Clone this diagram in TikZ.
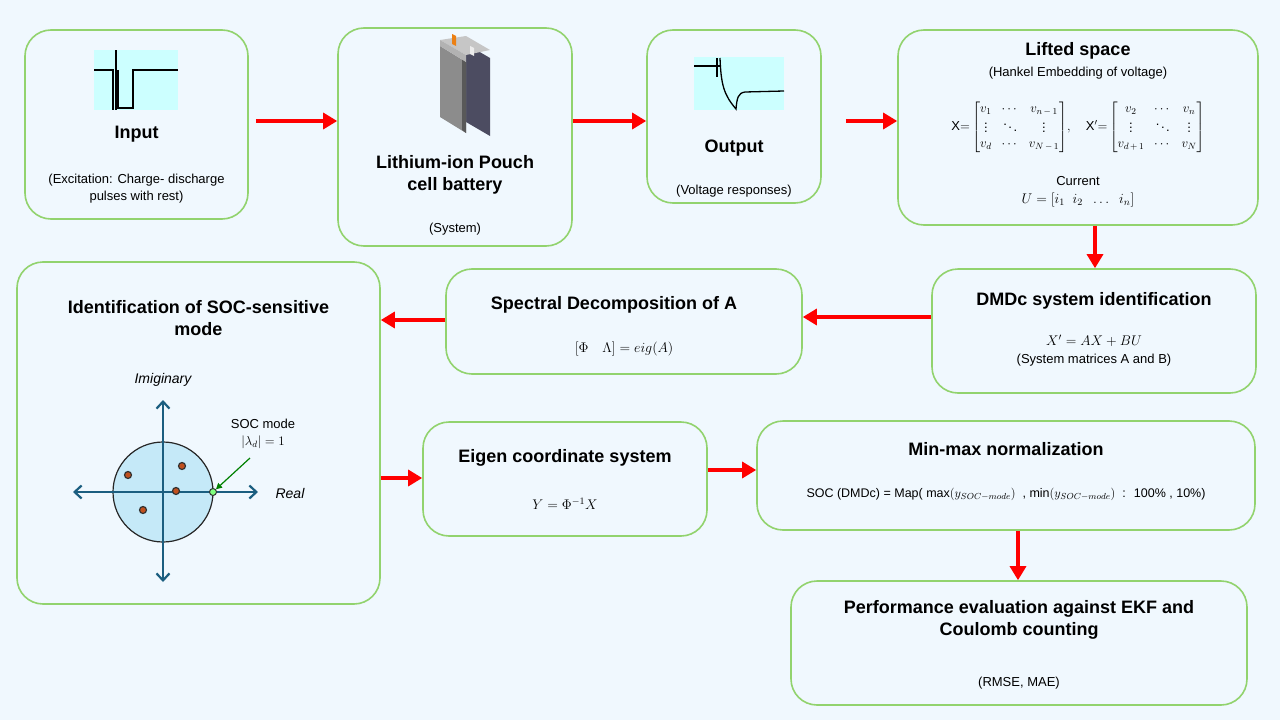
\RequirePackage{fix-cm}
\documentclass[tikz,border=0pt]{standalone}
\usepackage{amsmath}
\usepackage{fontspec}
\setmainfont{Liberation Sans}
\usetikzlibrary{arrows.meta,calc}

\definecolor{bgblue}{HTML}{F0F8FE}
\definecolor{boxgreen}{HTML}{92D36E}
\definecolor{panelcyan}{HTML}{CCFFFF}
\definecolor{axisblue}{HTML}{1B5E80}
\definecolor{diskblue}{HTML}{C5E9F8}
\definecolor{dotred}{HTML}{C0501E}

\tikzset{
  stage/.style={draw=boxgreen, line width=1.6pt, rounded corners=26pt, fill=bgblue},
  flow/.style={draw=red, line width=3.2pt, -{Triangle[length=14pt,width=16pt]}},
  head/.style={font=\fontsize{18}{22}\selectfont\bfseries, align=center},
  note/.style={font=\fontsize{13}{17}\selectfont, align=center},
  eq/.style={font=\fontsize{14}{17}\selectfont, align=center},
  axis/.style={draw=axisblue, line width=2.2pt, {Straight Barb[length=7pt,width=13pt]}-{Straight Barb[length=7pt,width=13pt]}},
  pole/.style={circle, draw=black!80, fill=dotred, line width=1.2pt, inner sep=0pt, minimum size=7pt}
}

\begin{document}
\begin{tikzpicture}[x=1pt,y=-1pt]
  \useasboundingbox[fill=bgblue] (0,0) rectangle (1280,720);

  % the stages
  \node[stage, minimum width=223pt, minimum height=189pt] (input) at (136.5,124.5) {};
  \node[stage, minimum width=234pt, minimum height=218pt] (cell) at (455,137) {};
  \node[stage, minimum width=174pt, minimum height=173pt] (output) at (734,116.5) {};
  \node[stage, minimum width=360pt, minimum height=195pt] (lifted) at (1078,127.5) {};
  \node[stage, minimum width=324pt, minimum height=124pt] (dmdc) at (1094,331) {};
  \node[stage, minimum width=356pt, minimum height=105pt] (spectral) at (624,321.5) {};
  \node[stage, minimum width=363pt, minimum height=342pt] (ident) at (198.5,433) {};
  \node[stage, minimum width=284pt, minimum height=114pt] (eigen) at (565,479) {};
  \node[stage, minimum width=498pt, minimum height=109pt] (minmax) at (1006,475.5) {};
  \node[stage, minimum width=456pt, minimum height=124pt] (perf) at (1019,643) {};

  % input signal
  \fill[panelcyan] (94,50) rectangle (178,110);
  \draw[line width=1.5pt] (94,70) -- (113,70) -- (113,110);
  \draw[line width=1.5pt] (116,50) -- (116,110);
  \draw[line width=1.5pt] (118,70) -- (118,108) -- (133,108) -- (133,70) -- (178,70);
  \node[head] (inputT) at (136.5,134) {Input};
  \node[note] (inputN) at (136.5,189) {(Excitation: Charge- discharge\\pulses with rest)};

  % pouch cell
  \fill[black!80!blue!40!gray] (466,44) -- (490,58) -- (490,136) -- (466,122) -- cycle;
  \fill[gray!90] (440,46) -- (466,62) -- (466,133) -- (440,117) -- cycle;
  \fill[black!65] (462,59) -- (466,62) -- (466,133) -- (462,130) -- cycle;
  \fill[gray!45] (440,40) -- (466,55) -- (490,50) -- (466,36) -- cycle;
  \fill[gray!60] (440,40) -- (466,55) -- (466,62) -- (440,46) -- cycle;
  \fill[orange!70!brown] (452,34) -- (456,36) -- (456,46) -- (452,44) -- cycle;
  \fill[white!85!gray] (470,46) -- (474,48) -- (474,56) -- (470,54) -- cycle;
  \node[head] (cellT) at (455,175) {Lithium-ion Pouch\\cell battery};
  \node[note] (cellN) at (455,229) {(System)};

  % output signal
  \fill[panelcyan] (694,57) rectangle (784,110);
  \draw[line width=1.3pt] (694,66) -- (720,66);
  \draw[line width=1.3pt] (717,58) -- (717,77);
  \draw[line width=1.3pt] (720,58) .. controls (721,85) and (724,95) .. (736,109)
    .. controls (737,98) and (738,93) .. (745,92) -- (784,91);
  \node[head] (outputT) at (734,148) {Output};
  \node[note] (outputN) at (734,191) {(Voltage responses)};

  % lifted space
  \node[head] (liftedT) at (1078,51) {Lifted space};
  \node[note] (liftedN) at (1078,73) {(Hankel Embedding of voltage)};
  \node[eq, font=\fontsize{13}{15}\selectfont] (liftedM) at (1078,127) {$\mathrm{X}{=}\begin{bmatrix} v_1 & \cdots & v_{n\,-\,1}\\ \vdots & \ddots & \vdots\\ v_d & \cdots & v_{N\,-\,1}\end{bmatrix}\!,\quad
    \mathrm{X}'{=}\begin{bmatrix} v_2 & \cdots & v_n\\ \vdots & \ddots & \vdots\\ v_{d\,+\,1} & \cdots & v_N\end{bmatrix}$};
  \node[note] (liftedC) at (1078,181) {Current};
  \node[eq] (liftedU) at (1078,200) {$U=[i_1\;\; i_2\;\;\dots\;\; i_n]$};

  % DMDc
  \node[head] (dmdcT) at (1094,301) {DMDc system identification};
  \node[eq] (dmdcE) at (1094,341) {$X'=AX+BU$};
  \node[note] (dmdcN) at (1094,360) {(System matrices A and B)};

  % spectral
  \node[head] (spectralT) at (614,305) {Spectral Decomposition of A};
  \node[eq] (spectralE) at (624,349) {$[\Phi\quad\Lambda]=eig(A)$};

  % identification
  \node[head] (identT) at (198.5,318) {Identification of SOC-sensitive\\mode};
  \fill[diskblue] (163,492) circle (50pt);
  \draw[axisblue!60, line width=2pt] (113,492) -- (213,492) (163,442) -- (163,542);
  \draw[black!85, line width=1.2pt] (163,492) circle (50pt);
  \draw[axis] (73,492) -- (258,492);
  \draw[axis] (163,400) -- (163,582);
  \node[pole] (p1) at (128,475) {};
  \node[pole] (p2) at (182,466) {};
  \node[pole] (p3) at (176,491) {};
  \node[pole] (p4) at (143,510) {};
  \node[pole, fill=green!50, line width=1pt] (soc) at (213,492) {};
  \node[eq] (imag) at (163,380) {$\mathit{Imiginary}$};
  \node[eq] (real) at (290,493) {$\mathit{Real}$};
  \node[note] (socT) at (263,434) {SOC mode\\$|\lambda_d|=1$};
  \draw[green!50!black, line width=1.2pt, -{Triangle[length=6pt,width=6pt]}] (250,458) -- (soc);

  % eigen coordinates
  \node[head] (eigenT) at (565,458) {Eigen coordinate system};
  \node[eq] (eigenE) at (565,504) {$Y=\Phi^{-1}X$};

  % min-max
  \node[head] (minmaxT) at (1006,449) {Min-max normalization};
  \node[note, font=\fontsize{12.5}{15}\selectfont] (minmaxE) at (1006,494)
    {SOC (DMDc) = Map( $\max(y_{SOC-mode})$ \ , $\min(y_{SOC-mode})$ \ : \ 100\% , 10\%)};

  % performance
  \node[head] (perfT) at (1019,620) {Performance evaluation against EKF and\\Coulomb counting};
  \node[note] (perfN) at (1019,683) {(RMSE, MAE)};

  % flow arrows
  \draw[flow] ([yshift=3.5pt]input.east) ++(7,0) -- ([yshift=16pt]cell.west);
  \draw[flow] ([yshift=16pt]cell.east) -- ([yshift=-4.5pt]output.west);
  \draw[flow] ([yshift=-4.5pt]output.east) ++(24,0) -- ([yshift=6.5pt]lifted.west);
  \draw[flow] ([xshift=17pt]lifted.south) -- ([xshift=1pt]dmdc.north);
  \draw[flow] ([yshift=14pt]dmdc.west) -- ([yshift=4.5pt]spectral.east);
  \draw[flow] ([yshift=1.5pt]spectral.west) -- ([yshift=113pt]ident.east);
  \draw[flow] ([yshift=-45pt]ident.east) -- ([yshift=1pt]eigen.west);
  \draw[flow] ([yshift=9pt]eigen.east) -- ([yshift=5.5pt]minmax.west);
  \draw[flow] ([xshift=12pt]minmax.south) -- ([xshift=-1pt]perf.north);
\end{tikzpicture}
\end{document}
